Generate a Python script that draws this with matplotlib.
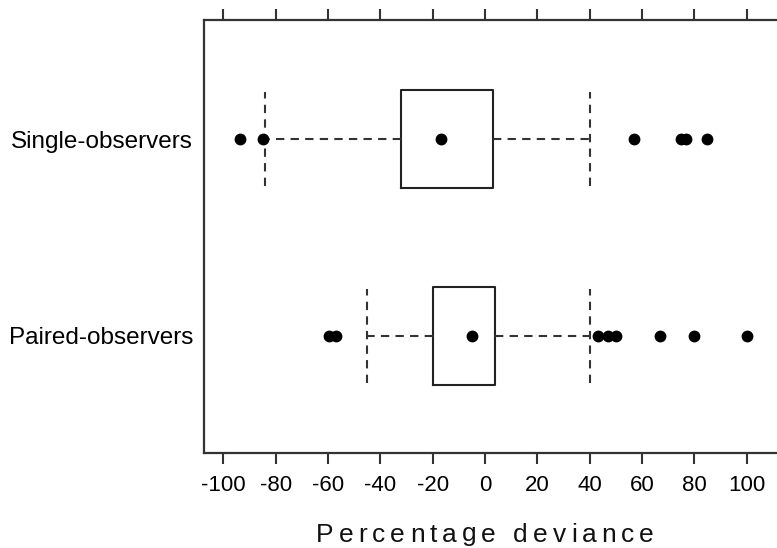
import matplotlib
matplotlib.use("Agg")
import matplotlib.pyplot as plt
from matplotlib.font_manager import FontProperties, findfont, get_font

plt.rcParams['font.family'] = ['Liberation Sans', 'DejaVu Sans']

# groups, bottom to top
groups = ["Paired-observers", "Single-observers"]
q1 = [-20, -32]
median = [-5, -17]
q3 = [4, 3]
whisker_low = [-45, -84]
whisker_high = [40, 40]
outliers = [
    [-59.5, -57, 43, 47, 50, 67, 80, 100],
    [-93.5, -85, 57, 75, 77, 85],
]
xticks = [-100, -80, -60, -40, -20, 0, 20, 40, 60, 80, 100]

W, H = 777, 548
fig = plt.figure(figsize=(W / 100, H / 100), dpi=100)
ax = fig.add_axes([204 / W, 1 - 453 / H, 1 - 204 / W, (453 - 20) / H])

stats = []
for i, name in enumerate(groups):
    stats.append({
        "label": name,
        "q1": q1[i], "med": median[i], "q3": q3[i], "mean": median[i],
        "whislo": whisker_low[i], "whishi": whisker_high[i],
        "fliers": outliers[i],
    })

dash = dict(color="#333333", linewidth=1.5, linestyle=(0, (4, 3)))
ax.bxp(stats, positions=[1, 2], orientation="horizontal", widths=0.5,
       capwidths=0.48, showmeans=True,
       boxprops=dict(color="#222222", linewidth=1.5),
       whiskerprops=dash, capprops=dash,
       medianprops=dict(linewidth=0),
       meanprops=dict(marker="o", markerfacecolor="black",
                      markeredgecolor="black", markersize=7.5),
       flierprops=dict(marker="o", markerfacecolor="black",
                       markeredgecolor="black", markersize=7.5))

ax.set_xlim(-107.4, 111.6)
ax.set_ylim(0.405, 2.605)
ax.set_xticks(xticks)
ax.set_xticklabels([str(t) for t in xticks])

ax.spines["right"].set_visible(False)
for s in ("left", "top", "bottom"):
    ax.spines[s].set_color("#333333")
    ax.spines[s].set_linewidth(1.6)

ax.tick_params(axis="x", which="both", top=True, bottom=True,
               labeltop=False, direction="out", length=8, width=1.5,
               color="#333333", labelsize=16, pad=7.5)
ax.tick_params(axis="y", length=0, labelsize=17.5, pad=8)

# letter-spaced axis title
title = "Percentage deviance"
size = 19
tracking = 5.0
font = get_font(findfont(FontProperties(family="Liberation Sans")))
font.set_size(size, 100)
advances = []
for ch in title:
    g = font.load_char(ord(ch))
    advances.append(g.linearHoriAdvance / 65536)
total = sum(advances) + tracking * (len(title) - 1)
x = 485 - total / 2
for ch, adv in zip(title, advances):
    fig.text(x / W, 6.5 / H, ch, fontsize=size, ha="left", va="baseline",
             color="#111111")
    x += adv + tracking

fig.savefig("out.png", dpi=100)
